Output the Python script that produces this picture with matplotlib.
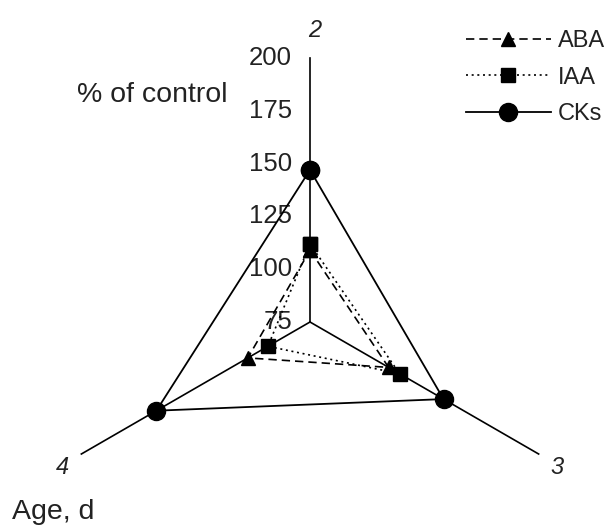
import numpy as np
import matplotlib
matplotlib.use("Agg")
import matplotlib.pyplot as plt
from matplotlib.lines import Line2D

plt.rcParams['font.family'] = ['Liberation Sans', 'DejaVu Sans']

# ---- data ----
ages = ["2", "3", "4"]
aba = [109, 118, 109]
iaa = [112, 124, 98]
cks = [147, 148, 159]
r_ticks = [75, 100, 125, 150, 175, 200]
r_min, r_max = 75, 200

W, H = 605, 525
fig = plt.figure(figsize=(W / 100, H / 100), dpi=100)
cx, cy, R = 310, 322, 264
ax = fig.add_axes([(cx - R) / W, (H - cy - R) / H, 2 * R / W, 2 * R / H],
                  projection='polar')
ax.set_theta_zero_location('N')
ax.set_theta_direction(-1)
ax.set_rlim(r_min, r_max)
ax.grid(False)
ax.spines['polar'].set_visible(False)
ax.set_xticks([])
ax.set_yticks([])
ax.patch.set_alpha(0)

thetas = np.deg2rad([0, 120, 240])

# spokes
for t in thetas:
    ax.plot([t, t], [r_min, r_max], color='black', lw=1.2, clip_on=False)

def closed(v):
    return list(thetas) + [thetas[0]], list(v) + [v[0]]

t_, v_ = closed(aba)
ax.plot(t_, v_, color='black', lw=1.2, dashes=(5, 3), marker='^', ms=10,
        clip_on=False, zorder=4)
t_, v_ = closed(iaa)
ax.plot(t_, v_, color='black', lw=1.2, dashes=(1.2, 2.2), marker='s', ms=10,
        clip_on=False, zorder=4)
t_, v_ = closed(cks)
ax.plot(t_, v_, color='black', lw=1.3, ls='-', marker='o', ms=13,
        clip_on=False, zorder=5)

# radial tick labels along top axis
for v in r_ticks:
    ax.annotate(str(v), xy=(0, v), xytext=(-13, 0), textcoords='offset points',
                ha='right', va='center', fontsize=18.5, color='#222222',
                annotation_clip=False)

# axis (age) labels
label_pos = [(np.deg2rad(1), 213), (np.deg2rad(120.5), 211), (np.deg2rad(239.5), 211)]
for lab, (t, r) in zip(ages, label_pos):
    ax.text(t, r, lab, fontsize=17, style='italic', ha='center', va='center',
            color='#222222', clip_on=False)

fig.text(152 / W, 1 - 95 / H, "% of control", fontsize=20.5, ha='center',
         va='center', color='#222222')
fig.text(12 / W, 1 - 512 / H, "Age, d", fontsize=20.5, ha='left',
         va='center', color='#222222')

handles = [
    Line2D([], [], color='black', lw=1.2, dashes=(5, 3), marker='^', ms=10),
    Line2D([], [], color='black', lw=1.2, dashes=(1.2, 2.2), marker='s', ms=10),
    Line2D([], [], color='black', lw=1.3, ls='-', marker='o', ms=13),
]
leg = fig.legend(handles, ["ABA", "IAA", "CKs"], loc='upper right',
                 bbox_to_anchor=(1.0, 1 - 30 / H), frameon=False,
                 fontsize=17, handlelength=3.6, handletextpad=0.3,
                 labelspacing=0.62, borderaxespad=0, borderpad=0)
for t in leg.get_texts():
    t.set_color('#222222')

fig.savefig("out.png", dpi=100)
